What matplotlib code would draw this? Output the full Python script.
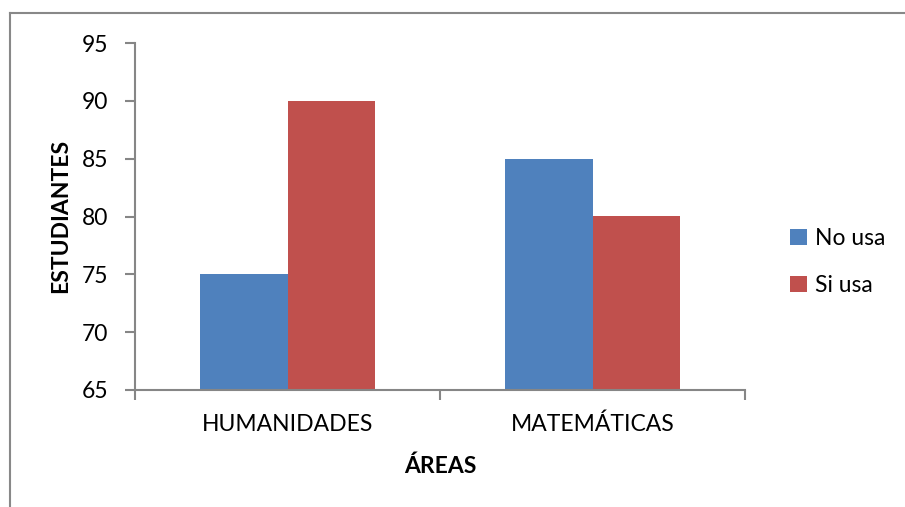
import matplotlib
matplotlib.use("Agg")
import matplotlib.pyplot as plt
from matplotlib.lines import Line2D
import numpy as np

categories = ["HUMANIDADES", "MATEMÁTICAS"]
series_names = ["No usa", "Si usa"]
no_usa = [75, 85]
si_usa = [90, 80]
y_ticks = [65, 70, 75, 80, 85, 90, 95]

plt.rcParams["font.family"] = ["Lato", "DejaVu Sans"]

W, H = 905, 507
fig = plt.figure(figsize=(W / 100, H / 100), dpi=100)
fig.patch.set_facecolor("white")

# chart frame: top and left edges (the rest runs off the canvas)
frame_x = 9.5 / W
frame_y = 1 - 12.5 / H
fig.add_artist(Line2D([frame_x, 1.0], [frame_y, frame_y], transform=fig.transFigure,
                      color="#888888", linewidth=1.5))
fig.add_artist(Line2D([frame_x, frame_x], [0.0, frame_y], transform=fig.transFigure,
                      color="#888888", linewidth=1.5))

left, right, bottom, top = 135 / W, 745 / W, 1 - 390 / H, 1 - 43 / H
ax = fig.add_axes([left, bottom, right - left, top - bottom])

gray = "#868686"
blue = "#4F81BD"
red = "#C0504D"
fs = 16.5
x = np.arange(len(categories))
bw = 0.287
ax.bar(x - bw / 2, [v - 65 for v in no_usa], bw, bottom=65, color=blue, label=series_names[0], zorder=2)
ax.bar(x + bw / 2, [v - 65 for v in si_usa], bw, bottom=65, color=red, label=series_names[1], zorder=2)

ax.set_xlim(-0.5, len(categories) - 0.5)
ax.set_ylim(65, 95)
ax.set_yticks(y_ticks)
ax.set_yticklabels([str(t) for t in y_ticks], fontsize=fs)
ax.set_xticks(x)
ax.set_xticklabels(categories, fontsize=fs)
ax.tick_params(axis="x", length=0, pad=17)
ax.set_xticks([-0.5, 0.5, 1.5], minor=True)
ax.tick_params(axis="x", which="minor", length=7, color=gray, width=1.5, direction="out")
ax.tick_params(axis="y", length=7, color=gray, width=1.5, direction="out", pad=12)

for s in ["top", "right"]:
    ax.spines[s].set_visible(False)
for s in ["left", "bottom"]:
    ax.spines[s].set_color(gray)
    ax.spines[s].set_linewidth(1.5)

# axis titles placed in figure pixels
fig.text(61 / W, 1 - 216 / H, "ESTUDIANTES", rotation=90, ha="center", va="center",
         fontsize=fs, fontweight="bold")
fig.text(440 / W, 1 - 466 / H, "ÁREAS", ha="center", va="center",
         fontsize=fs, fontweight="bold")

ax.legend(loc="center left", bbox_to_anchor=(779 / W, 1 - 262 / H),
          bbox_transform=fig.transFigure, frameon=False,
          fontsize=fs, handlelength=0.7, handleheight=0.7, handletextpad=0.35,
          labelspacing=1.1, borderpad=0)

fig.savefig("out.png", dpi=100)
